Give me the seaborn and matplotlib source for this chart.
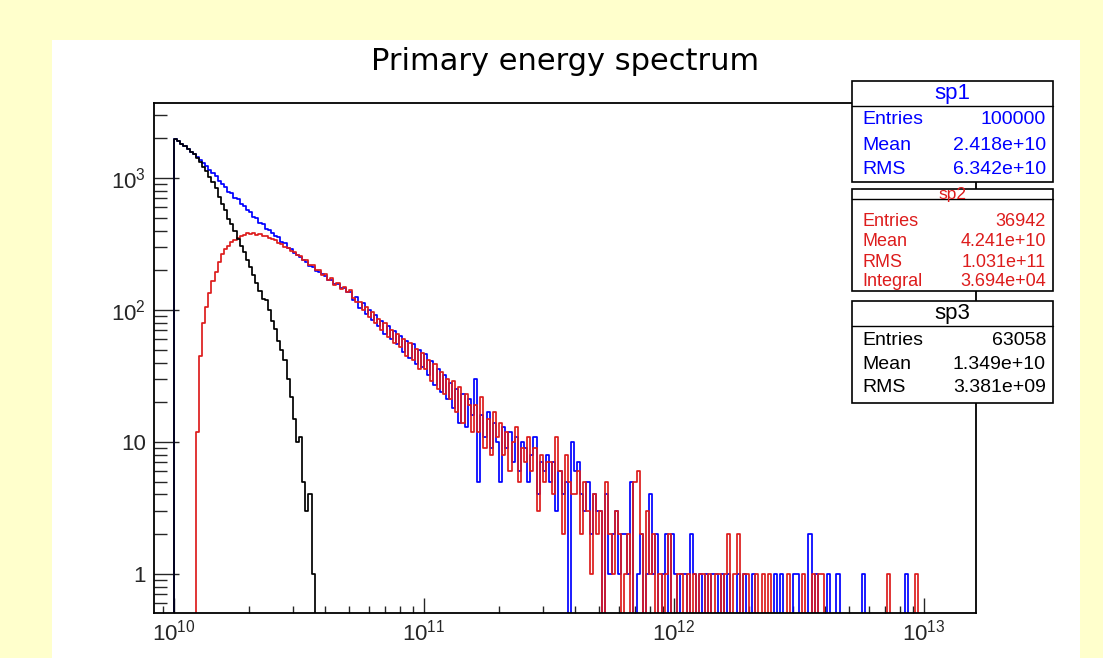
import numpy as np
import matplotlib
matplotlib.use("Agg")
import matplotlib.pyplot as plt
import seaborn as sns
from matplotlib.patches import Rectangle
from matplotlib.lines import Line2D
from matplotlib.ticker import LogLocator, NullFormatter

# ---------------- data ----------------
# log10(E) bin grid: first bin starts at 9.9875, width 0.0125 decade (first bin empty)
LOG_E0 = 9.9875
LOG_E_STEP = 0.0125

sp1_counts = [0,
    1990, 1900, 1800, 1740, 1660, 1570, 1530, 1440,
    1380, 1290, 1240, 1150, 1090, 1030, 950, 905,
    855, 790, 770, 700, 690, 635, 615, 570,
    550, 510, 500, 455, 445, 410, 405, 380,
    365, 355, 325, 320, 295, 290, 268, 262,
    250, 238, 232, 215, 212, 198, 195, 186,
    182, 170, 170, 158, 158, 146, 147, 138,
    138, 118, 126, 104, 112, 94, 100, 84,
    92, 75, 83, 66, 75, 60, 69, 55,
    63, 48, 58, 43, 55, 39, 50, 37,
    46, 32, 41, 27, 36, 24, 32, 21,
    28, 18, 25, 14, 23, 13, 21, 16,
    30, 5, 16, 11, 17, 9, 14, 10,
    5, 13, 9, 12, 7, 11, 6, 10,
    9, 5, 8, 11, 4, 7, 6, 8,
    5, 7, 3, 6, 4, 5, 0, 10,
    6, 7, 4, 3, 5, 2, 4, 3,
    3, 0, 4, 1, 2, 3, 1, 2,
    2, 1, 5, 0, 1, 2, 0, 1,
    4, 1, 2, 0, 1, 2, 0, 2,
    1, 0, 1, 1, 0, 2, 1, 0,
    1, 0, 1, 0, 1, 1, 0, 1,
    0, 1, 0, 0, 1, 0, 1, 0,
    0, 1, 0, 0, 0, 0, 0, 0,
    1, 0, 1, 0, 0, 0, 1, 1,
    0, 0, 0, 2, 0, 1, 0, 0,
    0, 1, 0, 0, 1, 0, 0, 0,
    0, 0, 0, 0, 1, 0, 0, 0,
    0, 0, 0, 0, 0, 0, 0, 0,
    0, 0, 1, 0, 0, 0, 0, 0,
]

sp2_counts = [0,
    0, 0, 0, 0, 0, 0, 0, 12,
    45, 80, 105, 135, 165, 195, 230, 265,
    290, 305, 325, 340, 350, 362, 372, 380,
    378, 385, 372, 378, 366, 362, 352, 345,
    338, 322, 318, 300, 296, 282, 275, 262,
    256, 240, 238, 218, 218, 200, 200, 185,
    186, 168, 174, 155, 160, 144, 150, 136,
    142, 124, 114, 115, 100, 106, 88, 96,
    80, 86, 70, 80, 62, 71, 56, 66,
    52, 60, 45, 56, 42, 51, 36, 47,
    36, 42, 29, 39, 25, 34, 23, 30,
    21, 29, 17, 26, 14, 23, 19, 12,
    19, 12, 22, 9, 15, 8, 17, 11,
    14, 8, 12, 6, 10, 13, 5, 9,
    7, 11, 6, 9, 3, 8, 5, 7,
    7, 4, 11, 6, 2, 8, 5, 4,
    4, 6, 2, 5, 3, 1, 4, 2,
    3, 0, 5, 2, 1, 3, 2, 0,
    1, 2, 0, 5, 6, 2, 0, 3,
    1, 2, 0, 1, 0, 1, 2, 0,
    0, 1, 1, 0, 1, 0, 1, 0,
    1, 1, 0, 1, 0, 1, 1, 0,
    1, 2, 0, 1, 2, 0, 1, 1,
    0, 0, 1, 0, 1, 0, 1, 0,
    0, 0, 0, 0, 1, 0, 0, 0,
    0, 1, 0, 0, 1, 0, 1, 1,
    0, 0, 0, 0, 0, 0, 0, 0,
    0, 0, 0, 0, 0, 0, 0, 0,
    0, 0, 0, 0, 1, 0, 0, 0,
    0, 0, 0, 0, 0, 1, 0, 0,
]

sp3_counts = [0,
    1990, 1900, 1800, 1740, 1650, 1570, 1520, 1420,
    1330, 1210, 1130, 1020, 925, 835, 720, 640,
    570, 490, 445, 395, 345, 305, 275, 240,
    210, 185, 160, 140, 122, 118, 100, 82,
    72, 58, 50, 42, 30, 22, 15, 10,
    11, 5, 3, 4, 1, 0, 0, 0,
]

title_text = "Primary energy spectrum"
x_tick_values = [1e10, 1e11, 1e12, 1e13]
x_tick_labels = ["$10^{10}$", "$10^{11}$", "$10^{12}$", "$10^{13}$"]
y_tick_values = [1, 10, 100, 1000]
y_tick_labels = ["1", "10", "$10^{2}$", "$10^{3}$"]

stat_names = ["sp1", "sp2", "sp3"]
stat_labels = [["Entries", "Mean", "RMS"],
               ["Entries", "Mean", "RMS", "Integral"],
               ["Entries", "Mean", "RMS"]]
stat_values = [["100000", "2.418e+10", "6.342e+10"],
               ["36942", "4.241e+10", "1.031e+11", "3.694e+04"],
               ["63058", "1.349e+10", "3.381e+09"]]

BLUE = "#0000ff"
RED = "#dd1c1c"
BLACK = "#000000"
colors = [BLUE, RED, BLACK]

# ---------------- style ----------------
sns.set_style("ticks")
plt.rcParams["font.family"] = ["Liberation Sans", "DejaVu Sans"]
plt.rcParams["mathtext.fontset"] = "custom"
plt.rcParams["mathtext.rm"] = "Liberation Sans"
plt.rcParams["mathtext.it"] = "Liberation Sans:italic"
plt.rcParams["mathtext.bf"] = "Liberation Sans:bold"

W, H = 1103, 658
fig = plt.figure(figsize=(W / 100, H / 100), dpi=100, facecolor="#ffffcc")

def fx(x):
    return x / W

def fy(y):
    return 1 - y / H

# white panel
fig.patches.append(Rectangle((fx(52), 0), fx(1080) - fx(52), fy(40), transform=fig.transFigure,
                             facecolor="white", edgecolor="none", zorder=-5))

ax = fig.add_axes([fx(154), fy(613), fx(976) - fx(154), fy(103) - fy(613)])
ax.set_facecolor("white")

for counts, col in zip([sp1_counts, sp2_counts, sp3_counts], colors):
    n = len(counts)
    edges = LOG_E0 + LOG_E_STEP * np.arange(n + 1)
    centers = 10 ** ((edges[:-1] + edges[1:]) / 2)
    sns.histplot(x=centers, weights=counts, bins=list(edges), element="step", fill=False,
                 color=col, linewidth=1.25, log_scale=(True, True), ax=ax)

# empty bins are drawn down to the bottom of the frame, as ROOT does
ax.set_yscale("log", nonpositive="clip")
for ln in ax.lines:
    y = np.asarray(ln.get_ydata(), dtype=float)
    ln.set_ydata(np.where(y > 0, y, 1e-3))
    ln.set_clip_on(True)

ax.set_xlim(10 ** 9.92, 10 ** 13.208)
ax.set_ylim(0.506, 3700)
ax.set_xlabel("")
ax.set_ylabel("")

ax.set_xticks(x_tick_values, labels=x_tick_labels)
ax.set_yticks(y_tick_values, labels=y_tick_labels)
ax.xaxis.set_minor_locator(LogLocator(base=10, subs=np.arange(2, 10) * 1.0, numticks=50))
ax.yaxis.set_minor_locator(LogLocator(base=10, subs=np.arange(2, 10) * 1.0, numticks=50))
ax.xaxis.set_minor_formatter(NullFormatter())
ax.yaxis.set_minor_formatter(NullFormatter())

ax.tick_params(axis="x", which="major", direction="in", length=11, width=1.0, labelsize=16, pad=5)
ax.tick_params(axis="x", which="minor", direction="in", length=5, width=1.0)
ax.tick_params(axis="y", which="major", direction="in", length=18, width=1.0, labelsize=16, pad=6)
ax.tick_params(axis="y", which="minor", direction="in", length=9.5, width=1.0)
ax.tick_params(top=False, right=False, which="both")
for s in ax.spines.values():
    s.set_linewidth(1.3)
    s.set_color("black")
    s.set_visible(True)

fig.text(fx(565), fy(70), title_text, ha="center", va="baseline", fontsize=22,
         color="black", family=["DejaVu Sans"])

# ---------------- stat boxes ----------------
box_geom = [
    dict(top=81, div=106, bottom=182, head_y=93, head_size=16, size=14, rows=[120, 145, 170]),
    dict(top=189, div=199, bottom=291, head_y=195, head_size=12.5, size=13, rows=[222, 242, 262, 282]),
    dict(top=301, div=326, bottom=403, head_y=313, head_size=16, size=14, rows=[341, 365, 388]),
]
BX0, BX1 = 852, 1053
for name, labs, vals, col, g in zip(stat_names, stat_labels, stat_values, colors, box_geom):
    fig.patches.append(Rectangle((fx(BX0), fy(g["bottom"])), fx(BX1) - fx(BX0),
                                 fy(g["top"]) - fy(g["bottom"]), transform=fig.transFigure,
                                 facecolor="white", edgecolor="black", linewidth=1.2, zorder=5))
    fig.lines.append(Line2D([fx(BX0), fx(BX1)], [fy(g["div"]), fy(g["div"])],
                            transform=fig.transFigure, color="black", linewidth=1.0, zorder=6))
    fig.text(fx((BX0 + BX1) / 2), fy(g["head_y"]), name, ha="center", va="center",
             fontsize=g["head_size"], color=col, zorder=7)
    for lab, val, yy in zip(labs, vals, g["rows"]):
        fig.text(fx(862), fy(yy), lab, ha="left", va="center", fontsize=g["size"], color=col, zorder=7)
        fig.text(fx(1046), fy(yy), val, ha="right", va="center", fontsize=g["size"], color=col, zorder=7)

fig.savefig("out.png", dpi=100, facecolor=fig.get_facecolor())
